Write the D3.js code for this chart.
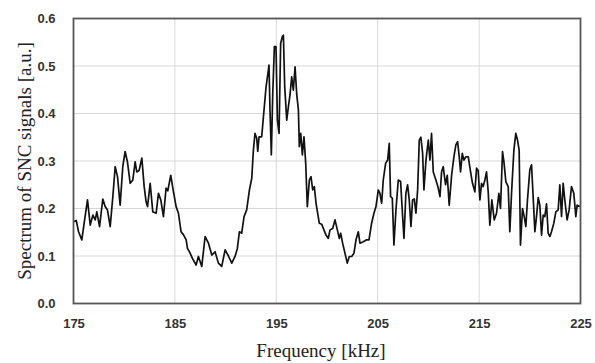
<!DOCTYPE html>
<html><head><meta charset="utf-8">
<script src="https://cdn.jsdelivr.net/npm/d3@7"></script>
<style>body{margin:0;background:#fff}svg{display:block}</style>
</head><body>
<svg id="c" width="595" height="363"></svg>
<script>
const xTicks = [175, 185, 195, 205, 215, 225];
const yTicks = [0.0, 0.1, 0.2, 0.3, 0.4, 0.5, 0.6];
const xLabel = "Frequency [kHz]";
const yLabel = "Spectrum of SNC signals [a.u.]";
const freq = [
175.07,175.27,175.50,175.82,176.05,176.38,176.65,176.91,177.14,177.30,177.57,177.89,178.12,178.35,178.62,178.88,179.11,179.34,179.60,179.86,180.09,180.32,180.59,180.85,181.08,181.24,181.47,181.74,181.97,182.16,182.30,182.56,182.82,183.15,183.38,183.61,183.87,184.13,184.30,184.59,184.86,185.12,185.35,185.61,185.84,186.11,186.24,
186.50,186.73,187.09,187.32,187.65,187.98,188.31,188.64,188.96,189.29,189.62,189.95,190.28,190.61,190.93,191.16,191.36,191.59,191.82,192.08,192.35,192.58,192.74,192.90,193.07,193.17,193.30,193.56,193.73,193.99,194.15,194.28,194.38,194.51,194.65,194.81,194.97,195.11,195.27,195.43,195.60,195.70,195.83,196.03,196.19,196.35,196.52,196.68,196.85,197.01,197.18,197.27,197.41,197.57,197.73,197.90,198.06,198.26,198.42,198.59,198.75,198.92,199.24,
199.47,199.70,199.90,200.13,200.30,200.56,200.79,201.02,201.21,201.35,201.54,201.77,202.00,202.20,202.43,202.66,202.86,203.09,203.25,203.58,203.91,204.14,204.40,204.63,204.83,205.06,205.22,205.39,205.55,205.78,205.98,206.14,206.27,206.44,206.60,206.80,207.03,207.26,207.42,207.59,207.78,207.95,208.11,208.28,208.44,208.61,208.77,208.94,209.10,209.26,209.43,209.56,209.76,209.99,
210.15,210.31,210.48,210.74,210.97,211.14,211.30,211.46,211.69,211.86,212.05,212.29,212.52,212.71,212.88,213.04,213.17,213.34,213.50,213.70,213.93,214.16,214.35,214.58,214.75,214.91,215.08,215.24,215.40,215.57,215.73,215.90,216.06,216.26,216.49,216.72,216.95,217.11,217.31,217.44,217.64,217.87,218.03,218.20,218.43,218.62,218.79,218.95,219.08,219.28,219.45,219.61,219.77,220.00,220.17,220.33,220.50,220.66,220.83,220.99,221.16,221.32,221.48,221.65,221.81,221.98,222.14,222.37,222.57,222.80,222.96,223.13,223.29,223.45,223.68,223.88,224.11,224.34,224.54,224.67,224.93
];
const spectrum = [
0.172,0.175,0.151,0.134,0.169,0.218,0.165,0.186,0.176,0.193,0.162,0.220,0.204,0.197,0.162,0.225,0.288,0.267,0.207,0.288,0.320,0.298,0.253,0.260,0.298,0.277,0.280,0.306,0.246,0.214,0.204,0.253,0.193,0.190,0.232,0.218,0.183,0.243,0.237,0.270,0.235,0.204,0.190,0.151,0.145,0.134,0.116,
0.106,0.095,0.081,0.099,0.078,0.141,0.127,0.102,0.109,0.085,0.078,0.113,0.100,0.085,0.099,0.116,0.151,0.148,0.183,0.197,0.239,0.264,0.323,0.358,0.348,0.320,0.351,0.351,0.393,0.456,0.481,0.502,0.407,0.313,0.442,0.541,0.541,0.386,0.358,0.548,0.562,0.565,0.456,0.386,0.414,0.439,0.477,0.449,0.498,0.442,0.407,0.330,0.358,0.313,0.351,0.295,0.204,0.260,0.267,0.239,0.246,0.211,0.169,
0.167,0.155,0.144,0.137,0.155,0.158,0.176,0.155,0.137,0.148,0.127,0.106,0.085,0.099,0.099,0.106,0.134,0.151,0.127,0.130,0.134,0.134,0.169,0.190,0.204,0.239,0.232,0.211,0.260,0.295,0.302,0.337,0.225,0.222,0.123,0.197,0.260,0.257,0.197,0.137,0.232,0.250,0.218,0.162,0.218,0.220,0.190,0.240,0.344,0.350,0.316,0.239,0.302,0.344,
0.302,0.358,0.277,0.260,0.243,0.225,0.277,0.288,0.250,0.270,0.207,0.270,0.309,0.334,0.341,0.309,0.277,0.316,0.302,0.309,0.309,0.277,0.253,0.235,0.285,0.280,0.218,0.253,0.246,0.260,0.277,0.235,0.165,0.218,0.176,0.190,0.232,0.200,0.320,0.300,0.256,0.246,0.151,0.232,0.323,0.358,0.344,0.323,0.123,0.200,0.183,0.162,0.218,0.281,0.292,0.225,0.151,0.183,0.223,0.207,0.144,0.186,0.183,0.210,0.148,0.141,0.151,0.169,0.193,0.197,0.250,0.183,0.253,0.218,0.176,0.197,0.246,0.232,0.183,0.207,0.204
];

const svg = d3.select("#c");
const m = {l: 73.5, r: 580.5, t: 18.5, b: 303.5};
const x = d3.scaleLinear().domain([175, 225]).range([m.l, m.r]);
const y = d3.scaleLinear().domain([0, 0.6]).range([m.b, m.t]);

// gridlines
svg.append("g").selectAll("line.h").data(yTicks).join("line")
  .attr("x1", m.l).attr("x2", m.r).attr("y1", d => y(d)).attr("y2", d => y(d))
  .attr("stroke", "#d8d8d8").attr("stroke-width", 1);
svg.append("g").selectAll("line.v").data(xTicks).join("line")
  .attr("y1", m.t).attr("y2", m.b).attr("x1", d => x(d)).attr("x2", d => x(d))
  .attr("stroke", "#d8d8d8").attr("stroke-width", 1);

// data line
const pts = freq.map((f, i) => [f, spectrum[i]]);
svg.append("path").datum(pts)
  .attr("fill", "none").attr("stroke", "#111").attr("stroke-width", 1.7)
  .attr("stroke-linejoin", "round")
  .attr("d", d3.line().x(d => x(d[0])).y(d => y(d[1])));

// frame
svg.append("rect").attr("x", m.l).attr("y", m.t).attr("width", m.r - m.l).attr("height", m.b - m.t)
  .attr("fill", "none").attr("stroke", "#555").attr("stroke-width", 1.8);

// axes (labels only)
const xAxis = d3.axisBottom(x).tickValues(xTicks).tickFormat(d3.format("d")).tickSize(0).tickPadding(15);
const gx = svg.append("g").attr("transform", `translate(0,${m.b})`).call(xAxis);
gx.select(".domain").remove();
gx.selectAll("text").attr("font-family", "Liberation Sans, Arial, sans-serif").attr("font-weight", "bold")
  .attr("font-size", 13).attr("fill", "#333");

const yAxis = d3.axisLeft(y).tickValues(yTicks).tickFormat(d3.format(".1f")).tickSize(0).tickPadding(18);
const gy = svg.append("g").attr("transform", `translate(${m.l},0)`).call(yAxis);
gy.select(".domain").remove();
gy.selectAll("text").attr("font-family", "Liberation Sans, Arial, sans-serif").attr("font-weight", "bold")
  .attr("font-size", 13).attr("fill", "#333");

// titles
svg.append("text").attr("x", 321).attr("y", 357).attr("text-anchor", "middle")
  .attr("font-family", "Liberation Serif, Times New Roman, serif").attr("font-size", 19).attr("fill", "#222")
  .text(xLabel);
svg.append("text").attr("transform", `translate(31,${(m.t + m.b) / 2}) rotate(-90)`).attr("text-anchor", "middle")
  .attr("font-family", "Liberation Serif, Times New Roman, serif").attr("font-size", 19).attr("fill", "#222")
  .text(yLabel);
</script>
</body></html>
